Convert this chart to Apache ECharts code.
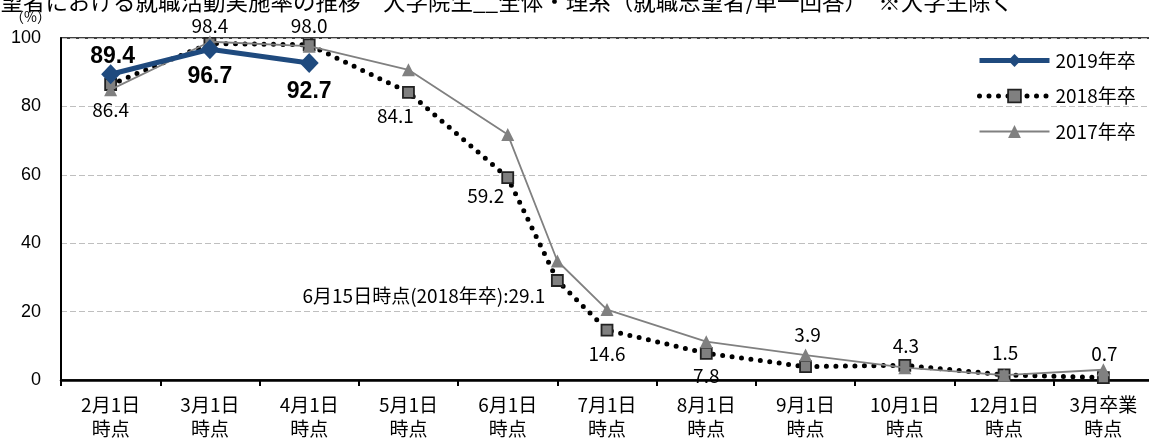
<!DOCTYPE html>
<html><head><meta charset="utf-8">
<script src="https://cdn.jsdelivr.net/npm/echarts@6/dist/echarts.min.js"></script>
<style>html,body{margin:0;padding:0;background:#fff}#c{width:1149px;height:438px}</style>
</head><body><div id="c"></div>
<script>
// ---- data ----
const titleText = '就職志望者における就職活動実施率の推移　大学院生__全体・理系（就職志望者/単一回答）　※大学生除く';
const unitLabel = '（%）';
const categories = ['2月1日','3月1日','4月1日','5月1日','6月1日','7月1日','8月1日','9月1日','10月1日','12月1日','3月卒業'];
const categorySuffix = '時点';
const yTicks = [0, 20, 40, 60, 80, 100];
const pointNames = ['2月1日','3月1日','4月1日','5月1日','6月1日','6月15日','7月1日','8月1日','9月1日','10月1日','12月1日','3月卒業'];
const seriesNames = ['2019年卒','2018年卒','2017年卒'];
const values2019 = [89.4, 96.7, 92.7];
const values2018 = [86.4, 98.4, 98.0, 84.1, 59.2, 29.1, 14.6, 7.8, 3.9, 4.3, 1.5, 0.7];
const values2017 = [84.9, 98.9, 97.6, 90.7, 71.8, 34.8, 20.6, 11.2, 7.3, 3.6, 1.4, 3.0];

// ---- label placement (style only) ----
const lab2019 = [[2,-18],[0,27],[0,29]];
const lab2018 = [[0,25],[0,-18],[0,-19],[-13,23],[-22,18],[-12,15],[0,24],[0,22],[2,-32],[1,-20],[1,-22],[1,-24]];

// position of a point on the category scale; a mid-month date sits between its month and the next category
function pointPos(name) {
  const i = categories.indexOf(name);
  if (i >= 0) return i;
  const m = name.match(/^(\d+)月(\d+)日$/);
  const base = categories.indexOf(m[1] + '月1日');
  return base + Number(m[2]) / 30;
}
function toData(vals) { return vals.map((v, i) => [pointPos(pointNames[i]), v]); }

const FONT = '"Noto Sans CJK JP", "Noto Sans", sans-serif';
const chart = echarts.init(document.getElementById('c'), null, {renderer: 'canvas'});

const data2018 = toData(values2018).map((d, i) => {
  const isMid = categories.indexOf(pointNames[i]) < 0;
  return {
    value: d,
    label: {
      show: true,
      position: 'inside',
      offset: lab2018[i],
      align: isMid ? 'right' : 'center',
      formatter: isMid
        ? (pointNames[i] + '時点(' + seriesNames[1] + '):' + values2018[i].toFixed(1))
        : values2018[i].toFixed(1)
    }
  };
});
const data2019 = toData(values2019).map((d, i) => ({
  value: d,
  label: {show: true, position: 'inside', offset: lab2019[i], formatter: values2019[i].toFixed(1)}
}));

const style2019 = {line: {color: '#1F4A7E', width: 5}, item: {color: '#1F4A7E'}};
const style2018 = {line: {color: '#000', width: 5, type: [0, 9.5], cap: 'round'}, item: {color: '#808080', borderColor: '#222', borderWidth: 1.8}};
const style2017 = {line: {color: '#808080', width: 1.8}, item: {color: '#808080'}};

chart.setOption({
  animation: false,
  textStyle: {fontFamily: FONT},
  graphic: [
    {type: 'text', left: -67, top: -10, z: 10, style: {text: titleText, font: '22.5px ' + FONT, fill: '#000'}},
    {type: 'text', left: 10, top: 10, style: {text: unitLabel, font: '14px ' + FONT, fill: '#000'}}
  ],
  legend: {
    data: [
      {name: seriesNames[0], lineStyle: style2019.line, itemStyle: style2019.item},
      {name: seriesNames[1], lineStyle: style2018.line, itemStyle: style2018.item},
      {name: seriesNames[2], lineStyle: style2017.line, itemStyle: style2017.item}
    ],
    orient: 'vertical',
    left: 977,
    top: 51,
    padding: 0,
    itemWidth: 70,
    itemHeight: 16,
    itemGap: 16.5,
    textStyle: {fontSize: 19, color: '#000', fontFamily: FONT, padding: [0, 0, 0, 1]}
  },
  grid: {left: 61, top: 38, width: 1092, height: 342, outerBoundsMode: 'none', containLabel: false,
         show: true, borderColor: '#000', borderWidth: 1.5, backgroundColor: 'transparent'},
  xAxis: [
    {
      type: 'category',
      data: categories.map(c => c + '\n' + categorySuffix),
      boundaryGap: true,
      axisLine: {lineStyle: {color: '#000', width: 2.5}},
      axisTick: {show: true, length: 6, lineStyle: {color: '#000', width: 2}},
      axisLabel: {interval: 0, fontSize: 19, color: '#000', margin: 13, lineHeight: 24, fontFamily: FONT},
      splitLine: {show: false}
    },
    {type: 'value', min: -0.5, max: categories.length - 0.5, show: false}
  ],
  yAxis: {
    type: 'value',
    min: yTicks[0],
    max: yTicks[yTicks.length - 1],
    interval: yTicks[1] - yTicks[0],
    axisLine: {show: true, onZero: false, lineStyle: {color: '#000', width: 2}},
    axisTick: {show: false},
    axisLabel: {fontSize: 18, color: '#000', margin: 20, fontFamily: '"Liberation Sans", Arial, sans-serif'},
    splitLine: {show: true, lineStyle: {color: '#bfbfbf', type: [6, 3], width: 1}}
  },
  series: [
    {
      name: seriesNames[2], type: 'line', xAxisIndex: 1, z: 3,
      data: toData(values2017),
      symbol: 'triangle', symbolSize: 13,
      lineStyle: style2017.line,
      itemStyle: style2017.item
    },
    {
      name: seriesNames[1], type: 'line', xAxisIndex: 1, z: 2,
      data: data2018,
      symbol: 'rect', symbolSize: 11,
      lineStyle: style2018.line,
      itemStyle: style2018.item,
      label: {color: '#000', fontSize: 19, fontFamily: FONT}
    },
    {
      name: seriesNames[0], type: 'line', xAxisIndex: 1, z: 4,
      data: data2019,
      symbol: 'diamond', symbolSize: [19, 20],
      lineStyle: style2019.line,
      itemStyle: style2019.item,
      label: {color: '#000', fontSize: 23, fontWeight: 'bold', fontFamily: '"Liberation Sans", Arial, sans-serif'}
    }
  ]
});
</script></body></html>
